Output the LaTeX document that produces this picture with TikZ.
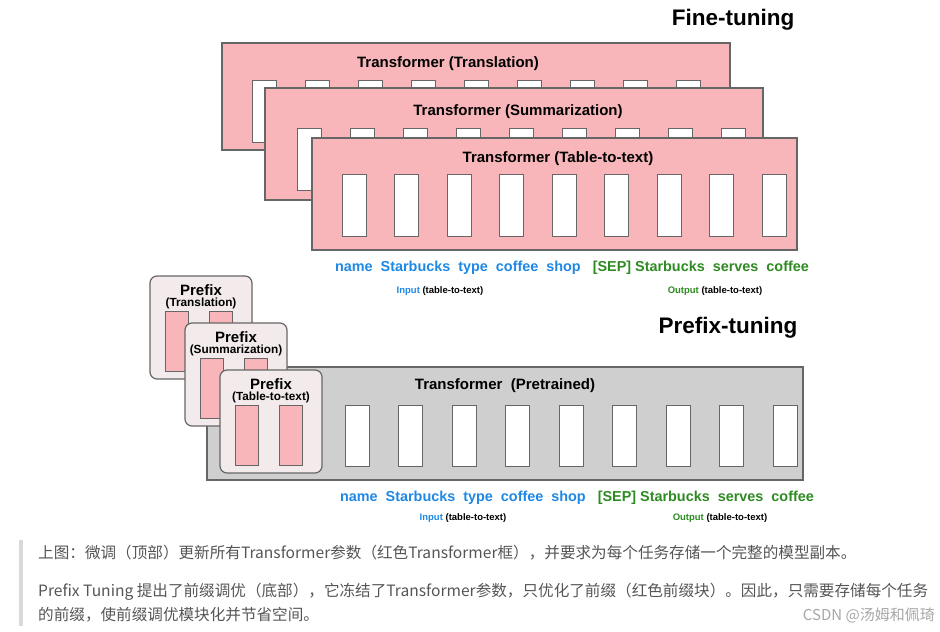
\documentclass[tikz,border=0pt]{standalone}
\usepackage{fontspec}
\setmainfont{Liberation Sans}
\newfontfamily\cjk{Noto Sans CJK SC}
\usepackage{xcolor}
\usetikzlibrary{positioning}
\definecolor{tpink}{HTML}{F8B6BA}
\definecolor{tgray}{HTML}{CFCFCF}
\definecolor{pbg}{HTML}{F3EBEB}
\definecolor{tblue}{HTML}{1E88E5}
\definecolor{tgreen}{HTML}{2E8B22}
\definecolor{edge}{HTML}{666666}
\definecolor{cap}{HTML}{555555}
\begin{document}
\begin{tikzpicture}[x=1pt,y=-1pt,
    tbox/.style={draw=edge, line width=1.2pt},
    slot/.style={draw=edge, line width=1pt, fill=white},
    title/.style={font=\bfseries\fontsize{15}{17}\selectfont, inner sep=0pt},
    big/.style={font=\bfseries\fontsize{22.5}{26}\selectfont, inner sep=0pt},
    words/.style={font=\bfseries\fontsize{14.4}{17}\selectfont, inner sep=0pt},
    small/.style={font=\bfseries\fontsize{9.5}{11}\selectfont, inner sep=0pt},
    ptask/.style={font=\bfseries\fontsize{11.8}{13}\selectfont, inner sep=0pt},
    pre/.style={draw=edge, line width=1.2pt, fill=pbg, rounded corners=7pt},
    note/.style={font=\cjk\fontsize{15.6}{18}\selectfont, text=cap, inner sep=0pt, anchor=west}
]
\useasboundingbox (0,0) rectangle (940,632);
% fine-tuning
\node[big] (ft) at (733,20) {Fine-tuning};
\draw[tbox, fill=tpink] (222,43) rectangle (730,150);
\node[title] (t1) at (448,64) {Transformer (Translation)};
\foreach \i in {0,...,8}
  \draw[slot] (252+53*\i,80) rectangle ++(24,62);
\draw[tbox, fill=tpink] (265,88) rectangle (763,200);
\node[title] (t2) at (518,112) {Transformer (Summarization)};
\foreach \i in {0,...,8}
  \draw[slot] (297+53*\i,128) rectangle ++(24,62);
\draw[tbox, fill=tpink] (312,138) rectangle (797,250);
\node[title] (t3) at (558,159) {Transformer (Table-to-text)};
\foreach \i in {0,...,8}
  \draw[slot] (342+52.5*\i,174) rectangle ++(24,62);
\node[words] (w1) at (572,268) {\textcolor{tblue}{name\ \ Starbucks\ \ type\ \ coffee\ \ shop}\ \ \ \textcolor{tgreen}{[SEP]\ Starbucks\ \ serves\ \ coffee}};
\node[small] (in1) at (440,291) {\textcolor{tblue}{Input} (table-to-text)};
\node[small] (out1) at (715,291) {\textcolor{tgreen}{Output} (table-to-text)};
% prefix-tuning
\node[big] (pt) at (728,328) {Prefix-tuning};
\draw[tbox, fill=tgray] (207,367) rectangle (803,480);
\node[title] (tp) at (505,386) {Transformer\ \ (Pretrained)};
\foreach \i in {0,...,8}
  \draw[slot] (345+53.5*\i,405) rectangle ++(24,61);
\foreach \x/\y/\t in {150/276/Translation, 185/323/Summarization, 220/370/Table-to-text}{
  \draw[pre] (\x,\y) rectangle ++(102,103);
  \node[title] at (\x+51,\y+14) {Prefix};
  \node[ptask] at (\x+51,\y+27) {(\t)};
  \draw[slot, fill=tpink] (\x+15,\y+35) rectangle ++(23,60);
  \draw[slot, fill=tpink] (\x+59,\y+35) rectangle ++(23,60);
}
\node[words] (w2) at (577,498) {\textcolor{tblue}{name\ \ Starbucks\ \ type\ \ coffee\ \ shop}\ \ \ \textcolor{tgreen}{[SEP]\ Starbucks\ \ serves\ \ coffee}};
\node[small] (in2) at (463,518) {\textcolor{tblue}{Input} (table-to-text)};
\node[small] (out2) at (720,518) {\textcolor{tgreen}{Output} (table-to-text)};
% caption
\fill[black!15] (19,540) rectangle (23,626);
\node[note] (c1) at (38,553) {上图：微调（顶部）更新所有Transformer参数（红色Transformer框），并要求为每个任务存储一个完整的模型副本。};
\node[note] (c2) at (38,592) {Prefix Tuning 提出了前缀调优（底部），它冻结了Transformer参数，只优化了前缀（红色前缀块）。因此，只需要存储每个任务};
\node[note] (c3) at (38,615) {的前缀，使前缀调优模块化并节省空间。};
\node[font=\cjk\fontsize{15}{17}\selectfont, text=black!35, inner sep=0pt, anchor=east] (wm) at (935,615) {CSDN @汤姆和佩琦};
\end{tikzpicture}
\end{document}
